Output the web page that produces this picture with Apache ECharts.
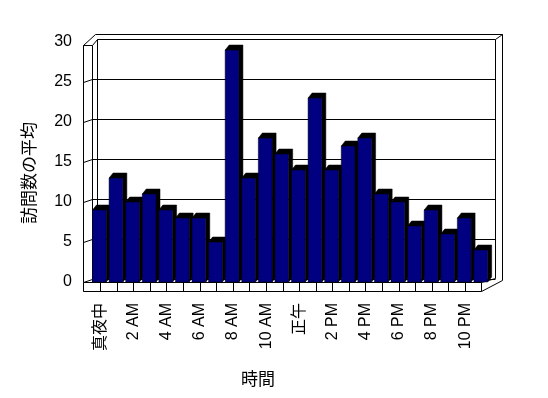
<!DOCTYPE html>
<html>
<head>
<meta charset="utf-8">
<script src="https://cdn.jsdelivr.net/npm/echarts@6/dist/echarts.min.js"></script>
<style>
  html, body { margin: 0; padding: 0; background: #fff; }
  #main { width: 548px; height: 398px; }
</style>
</head>
<body>
<div id="main"></div>
<script>
// hourly categories (labels shown every 2 hours)
const hours = ['真夜中', '1 AM', '2 AM', '3 AM', '4 AM', '5 AM', '6 AM', '7 AM',
    '8 AM', '9 AM', '10 AM', '11 AM', '正午', '1 PM', '2 PM', '3 PM',
    '4 PM', '5 PM', '6 PM', '7 PM', '8 PM', '9 PM', '10 PM', '11 PM'];
const avgVisits = [9, 13, 10, 11, 9, 8, 8, 5, 29, 13, 18, 16,
    14, 23, 14, 17, 18, 11, 10, 7, 9, 6, 8, 4];
const yTicks = [0, 5, 10, 15, 20, 25, 30];

const FONT = 'Liberation Sans, "Noto Sans CJK JP", sans-serif';
const chart = echarts.init(document.getElementById('main'));

function line(pts) {
    return {
        type: 'polyline',
        shape: {points: pts},
        style: {stroke: '#000', lineWidth: 1, fill: null}
    };
}

// walls and floor of the 3d box, built from the grid rect and the value axis
function renderFrame(params, api) {
    const cs = params.coordSys;
    const x0 = Math.round(cs.x) + 0.5, x1 = Math.round(cs.x + cs.width) + 0.5;
    const y0 = Math.round(cs.y) + 0.5, y1 = Math.round(cs.y + cs.height) + 0.5;
    const bw = api.size([1, 0])[0];
    const fx = x0 - 9;          // front plane left
    const children = [];

    // grid lines: left wall tick then back wall
    for (const v of yTicks) {
        const gy = Math.round(api.coord([0, v])[1]) + 0.5;
        if (v === 30) continue;
        children.push(line([[fx, gy], [x0, gy - 3], [x1 + 5, gy - 3]]));
    }
    const yTop = Math.round(api.coord([0, 30])[1]) + 0.5;
    // left wall slab
    children.push(line([[fx, y1 + 9], [fx, yTop + 3], [x0, yTop + 3], [x0, y1]]));
    children.push(line([[x0, yTop + 3], [x0 + 5, yTop - 3], [x1 + 5, yTop - 3], [x1 + 5, y1 - 4]]));
    children.push(line([[x0 + 5, yTop - 3], [x0 + 5, y1 - 3]]));
    children.push(line([[fx, yTop + 3], [fx + 12, yTop - 8], [x1 + 12, yTop - 8], [x1 + 12, y1 - 2]]));
    children.push(line([[x1 + 5, yTop - 3], [x1 + 12, yTop - 8]]));

    // floor front face with category cells
    const fr = fx + bw * hours.length;
    children.push({
        type: 'rect',
        shape: {x: fx, y: y1, width: fr - fx, height: 9},
        style: {stroke: '#000', lineWidth: 1, fill: '#fff'}
    });
    for (let k = 1; k < hours.length; k++) {
        const dx = Math.round(fx + k * bw) + 0.5;
        children.push(line([[dx, y1], [dx, y1 + 9]]));
    }
    children.push(line([[fr, y1], [x1 + 5, y1 - 4]]));
    children.push(line([[fr, y1 + 9], [x1 + 12, y1 - 2]]));

    return {type: 'group', children: children};
}

// one 3d-looking bar: navy front, black top and side
function renderBar(params, api) {
    const i = api.value(0);
    const top = api.coord([i, api.value(1)]);
    const base = api.coord([i, 0]);
    const bw = api.size([1, 0])[0];
    const left = top[0] - bw / 2 + 0.5;
    const fw = bw * 0.83;
    const dx = 4, dy = 5;
    return {
        type: 'group',
        children: [
            {
                type: 'polygon',
                shape: {points: [[left, top[1]], [left + dx, top[1] - dy], [left + fw + dx, top[1] - dy],
                    [left + fw + dx, base[1] - dy], [left + fw, base[1]], [left + fw, top[1]]]},
                style: {fill: '#000', stroke: '#000', lineWidth: 0.5}
            },
            {
                type: 'rect',
                shape: {x: left, y: top[1], width: fw, height: base[1] - top[1]},
                style: {fill: '#000080', stroke: '#000', lineWidth: 0.5}
            }
        ]
    };
}

chart.setOption({
    backgroundColor: '#fff',
    animation: false,
    grid: {left: 92, top: 42, width: 398, height: 240},
    xAxis: {
        type: 'category',
        data: hours,
        axisLine: {show: false},
        axisTick: {show: false},
        axisLabel: {
            interval: 1,
            rotate: 90,
            margin: 21,
            color: '#000',
            fontSize: 16,
            fontFamily: FONT
        }
    },
    yAxis: {
        type: 'value',
        min: 0,
        max: 30,
        interval: 5,
        axisLine: {show: false},
        axisTick: {show: false},
        splitLine: {show: false},
        axisLabel: {margin: 20, color: '#000', fontSize: 16, fontFamily: FONT}
    },
    graphic: [
        {
            type: 'text',
            x: 30, y: 173,
            rotation: Math.PI / 2,
            style: {text: '訪問数の平均', fill: '#000', font: '17px ' + FONT, align: 'center', verticalAlign: 'middle'}
        },
        {
            type: 'text',
            x: 258, y: 380,
            style: {text: '時間', fill: '#000', font: '17px ' + FONT, align: 'center', verticalAlign: 'middle'}
        }
    ],
    series: [
        {
            type: 'custom',
            name: 'frame',
            data: [[0, 0]],
            renderItem: renderFrame,
            silent: true,
            z: 1
        },
        {
            type: 'custom',
            name: '訪問数の平均',
            data: avgVisits.map((v, i) => [i, v]),
            encode: {x: 0, y: 1},
            renderItem: renderBar,
            z: 2
        }
    ]
});
</script>
</body>
</html>
